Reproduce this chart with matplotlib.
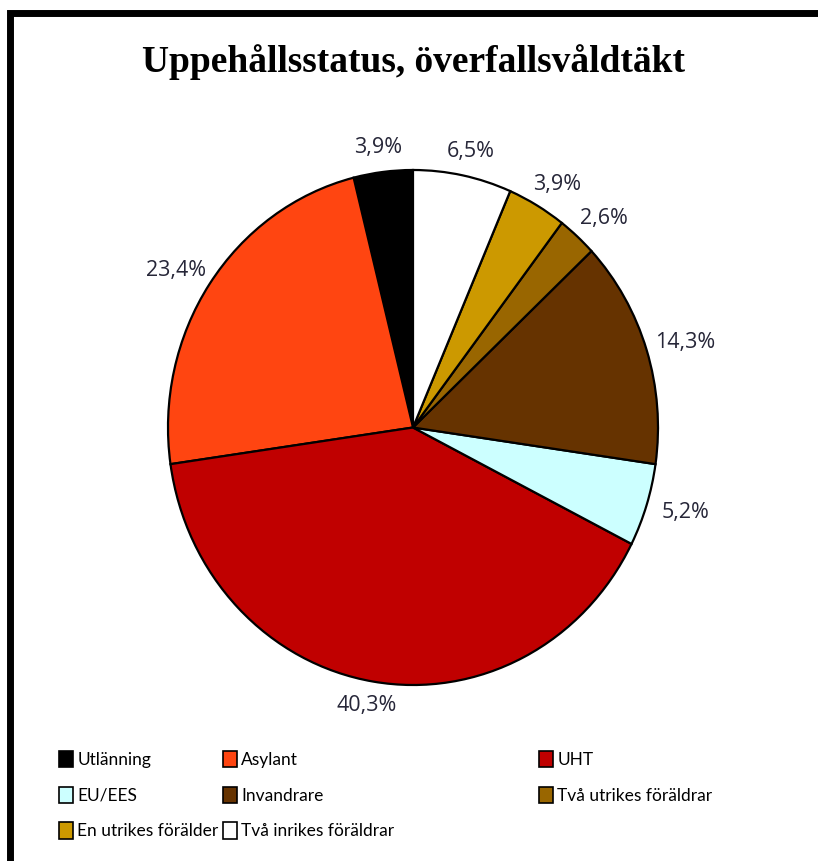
import numpy as np
import matplotlib.pyplot as plt
from matplotlib.patches import Rectangle, Patch

labels = ["Utlänning", "Asylant", "UHT", "EU/EES", "Invandrare",
          "Två utrikes föräldrar", "En utrikes förälder", "Två inrikes föräldrar"]
shares = [3.9, 23.4, 40.3, 5.2, 14.3, 2.6, 3.9, 6.5]
colors = ["#000000", "#FF4511", "#C00000", "#CCFFFF", "#663300",
          "#996600", "#CC9900", "#FFFFFF"]

W, H = 818, 861
fig = plt.figure(figsize=(W / 100, H / 100), dpi=100)

# chart border, runs off the right and bottom edges
fig.patches.append(Rectangle((9.5 / W, -0.05), 1.1, 1.05 - 13.5 / H,
                             transform=fig.transFigure, fill=False,
                             edgecolor="black", linewidth=5))

fig.text(413 / W, 1 - 62 / H, "Uppehållsstatus, överfallsvåldtäkt",
         ha="center", va="center", fontsize=27, fontweight="bold",
         family="Liberation Serif")

ax = fig.add_axes([168 / W, 1 - 685 / H, 490 / W, 515 / H])
wedges, _ = ax.pie(shares, colors=colors, startangle=90, counterclock=True,
                   wedgeprops=dict(edgecolor="black", linewidth=1.6))
ax.set_aspect("auto")
ax.set_xlim(-1, 1)
ax.set_ylim(-1, 1)

# value labels just outside the rim, pushed out by half the text box
for w, v in zip(wedges, shares):
    a = np.deg2rad((w.theta1 + w.theta2) / 2)
    dx, dy = np.cos(a), np.sin(a)
    ax.annotate(f"{v:.1f}".replace(".", ",") + "%",
                xy=(1.04 * dx, 1.04 * dy),
                xytext=(dx * 22, dy * 10), textcoords="offset points",
                ha="center", va="center", fontsize=15.5, color="#262638",
                family="Open Sans", annotation_clip=False)

# legend laid out in three columns, filled row by row
handles = [Patch(facecolor=c, edgecolor="black", linewidth=1.2) for c in colors]
col_x = [59, 223, 539]
for j, x in enumerate(col_x):
    idx = list(range(j, len(labels), 3))
    fig.legend([handles[i] for i in idx], [labels[i] for i in idx],
               loc="upper left", bbox_to_anchor=(x / W, 1 - 751 / H),
               frameon=False, borderpad=0, borderaxespad=0,
               prop=dict(family="Lato", size=12.5),
               handlelength=0.8, handleheight=1.05, handletextpad=0.25,
               labelspacing=1.08)

fig.savefig("out.png", dpi=100)
